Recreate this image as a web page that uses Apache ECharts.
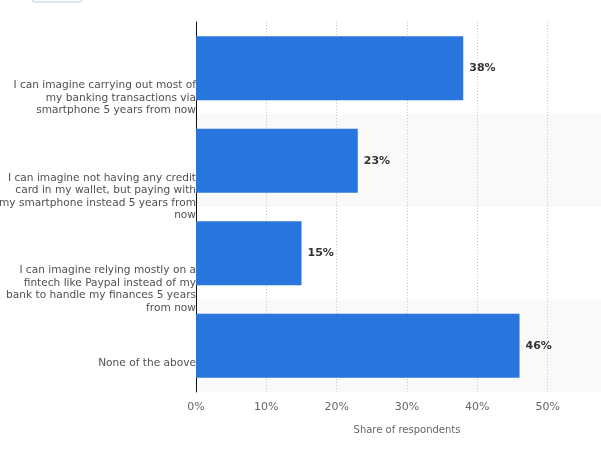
<!DOCTYPE html>
<html>
<head>
<meta charset="utf-8">
<script src="https://cdn.jsdelivr.net/npm/echarts@6/dist/echarts.min.js"></script>
<style>html,body{margin:0;padding:0;background:#fff;}#c{width:601px;height:452px;}</style>
</head>
<body>
<div id="c"></div>
<script>
var categories = [
  "I can imagine carrying out most of\nmy banking transactions via\nsmartphone 5 years from now",
  "I can imagine not having any credit\ncard in my wallet, but paying with\nmy smartphone instead 5 years from\nnow",
  "I can imagine relying mostly on a\nfintech like Paypal instead of my\nbank to handle my finances 5 years\nfrom now",
  "None of the above"
];
var values = [38, 23, 15, 46];
var xTicks = [0, 10, 20, 30, 40, 50, 60];
var axisTitle = "Share of respondents";

var chart = echarts.init(document.getElementById('c'), null, {renderer: 'canvas'});
chart.setOption({
  animation: false,
  textStyle: {fontFamily: 'DejaVu Sans'},
  grid: {left: 196, right: -17, top: 22, bottom: 60, containLabel: false, outerBoundsMode: 'none'},
  graphic: [{
    type: 'rect', shape: {x: 32, y: -20, width: 50, height: 22, r: 3},
    style: {fill: '#fff', stroke: '#b5cdea', lineWidth: 1}
  }],
  xAxis: {
    type: 'value', min: xTicks[0], max: xTicks[xTicks.length - 1], interval: 10,
    name: axisTitle, nameLocation: 'middle', nameGap: 33,
    nameTextStyle: {color: '#666', fontSize: 10, fontFamily: 'DejaVu Sans'},
    axisLine: {show: false}, axisTick: {show: false},
    axisLabel: {color: '#666', fontSize: 11, margin: 10, formatter: function (v) { return v + '%'; }},
    splitLine: {show: true, lineStyle: {color: '#c8c8c8', type: [1, 2], width: 1}}
  },
  yAxis: {
    type: 'category', data: categories, inverse: true,
    axisLine: {show: true, lineStyle: {color: '#111', width: 1}},
    axisTick: {show: false},
    splitArea: {show: true, areaStyle: {color: ['rgba(255,255,255,0)', '#f9f9f9']}},
    axisLabel: {
      color: '#4f4f55', fontSize: 10.6, margin: 0, align: 'right',
      verticalAlign: 'top', lineHeight: 12.5, padding: [11, 0, 0, 0],
      fontFamily: 'DejaVu Sans'
    }
  },
  series: [{
    type: 'bar', data: values, barWidth: '69%',
    itemStyle: {color: '#2876dd'},
    label: {
      show: true, position: 'right', distance: 6, formatter: '{c}%',
      color: '#333', fontSize: 11, fontWeight: 'bold', fontFamily: 'DejaVu Sans'
    }
  }]
});
</script>
</body>
</html>
